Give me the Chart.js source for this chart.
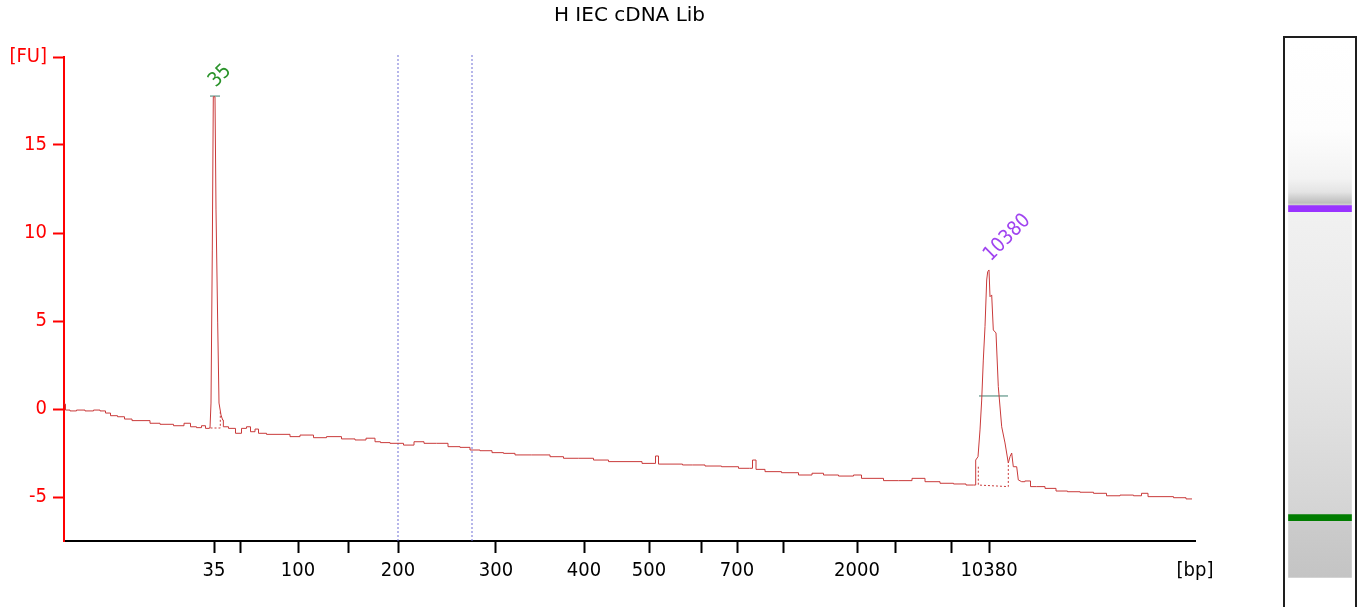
<!DOCTYPE html>
<html>
<head>
<meta charset="utf-8">
<script src="https://cdn.jsdelivr.net/npm/chart.js@4.4.1/dist/chart.umd.min.js"></script>
<style>
  html, body { margin: 0; padding: 0; background: #fff; overflow: hidden; }
  #main { position: absolute; left: 0; top: 0; width: 1246px; height: 607px; }
  #gel { position: absolute; left: 1283px; top: 36px; width: 70px; height: 571px; border: 2px solid #1e1e1e; border-bottom: none; }
</style>
</head>
<body>
<div id="main"><canvas id="traceChart"></canvas></div>
<div id="gel"><canvas id="gelChart"></canvas></div>
<script>
var chartTitle = 'H IEC cDNA Lib';

// migration position (x) and fluorescence [FU] of the trace
var sizePos = [0, 3, 9, 16, 26, 33, 39, 44, 49, 58,
  63, 73, 83, 89, 103, 116, 124, 129, 136, 139,
  144, 146, 147, 148.3, 149.3, 151, 152, 153.7, 155, 157,
  158.7, 160, 169, 174, 181, 184, 189, 193, 196, 209,
  223, 229, 243, 256, 269, 286, 296, 308, 314, 319,
  333, 346, 354, 366, 379, 389, 403, 409, 423, 433,
  446, 456, 479, 493, 506, 523, 536, 553, 573, 583,
  591, 592, 594, 595, 613, 624, 633, 649, 666, 683,
  688, 689, 691, 693, 709, 726, 743, 753, 766, 783,
  796, 799, 813, 826, 843, 853, 869, 883, 896, 908,
  911, 911.7, 914, 916, 917.7, 919.3, 921, 922.7, 923.7, 925,
  926, 927.7, 929.3, 932, 934.3, 937.7, 941, 944.3, 946, 947.7,
  949.3, 952.7, 954.3, 957.7, 964, 969, 976, 986, 998, 1009,
  1023, 1036, 1049, 1063, 1076, 1079, 1089, 1103, 1116, 1128];

var fluorescence = [0.28, -0.06, -0.11, -0.06, -0.11, -0.06, -0.11, -0.23, -0.38, -0.44,
  -0.57, -0.66, -0.66, -0.81, -0.87, -0.95, -0.81, -1.01, -1.06, -0.95,
  -1.10, -1.08, 0.34, 9.03, 17.74, 17.74, 11.31, 4.89, 0.34, -0.34,
  -0.63, -1.01, -1.10, -1.38, -1.10, -1.01, -1.29, -1.14, -1.38, -1.44,
  -1.44, -1.57, -1.48, -1.63, -1.57, -1.70, -1.76, -1.66, -1.86, -1.91,
  -1.95, -2.05, -1.86, -1.95, -1.95, -2.14, -2.18, -2.33, -2.37, -2.48,
  -2.52, -2.61, -2.61, -2.71, -2.80, -2.80, -2.90, -2.99, -2.99, -3.09,
  -3.09, -2.67, -2.67, -3.13, -3.13, -3.18, -3.18, -3.24, -3.28, -3.37,
  -3.37, -2.90, -2.90, -3.43, -3.56, -3.62, -3.75, -3.65, -3.75, -3.81,
  -3.75, -3.94, -3.94, -4.07, -4.07, -3.94, -4.13, -4.22, -4.26, -4.32,
  -4.32, -2.90, -2.71, -1.19, 0.51, 2.78, 4.68, 7.33, 7.80, 7.90,
  6.38, 6.48, 4.49, 4.32, 1.27, -1.01, -1.93, -3.07, -2.71, -2.50,
  -3.28, -3.28, -4.03, -4.13, -4.09, -4.41, -4.41, -4.51, -4.66, -4.70,
  -4.73, -4.79, -4.93, -4.89, -4.93, -4.79, -4.98, -4.98, -5.04, -5.11];

// ladder ticks on the x axis
var ladderPos = [150, 176, 234, 284, 334, 432, 520, 585, 637, 673, 719, 793, 831, 887, 925, 1131];
var ladderLabel = ['35', '', '100', '', '200', '300', '400', '500', '', '700', '', '2000', '', '', '10380', '[bp]'];

var yTicks = [-5, 0, 5, 10, 15, 20];

// called peaks
var peakPos = [150, 925];
var peakTop = [17.78, 7.90];
var peakLabel = ['35', '10380'];
var peakColor = ['#2a932a', '#a044f0'];
var bandColor = ['#007c00', '#9933ff'];

// where each peak starts and ends on the trace
var peakFrom = [146, 911];
var peakTo = [158.7, 957.7];

// peak window / marker level
var markerFrom = [146, 915];
var markerTo = [156, 944];
var markerLevel = [17.78, 0.74];

// integration baseline under each peak
var baseX = [[146.5, 156.3, 156.3], [914.3, 914.3, 944.3, 944.3]];
var baseY = [[-1.08, -1.08, -0.15], [-3.28, -4.32, -4.41, -3.07]];

// region of interest
var regionX = [334, 408];

var fontFamily = '"DejaVu Sans Condensed", "DejaVu Sans", sans-serif';
Chart.defaults.font.family = fontFamily;
Chart.defaults.font.size = 20;

function toPoints(xs, ys) {
  var pts = [];
  for (var i = 0; i < xs.length; i++) {
    pts.push({ x: xs[i], y: ys[i] });
  }
  return pts;
}

function insidePeak(p, strict) {
  for (var i = 0; i < peakFrom.length; i++) {
    if (strict && p > peakFrom[i] && p < peakTo[i]) return true;
    if (!strict && p >= peakFrom[i] && p <= peakTo[i]) return true;
  }
  return false;
}

var noisePts = [];
var peakPts = [];
for (var n = 0; n < sizePos.length; n++) {
  noisePts.push({ x: sizePos[n], y: insidePeak(sizePos[n], true) ? null : fluorescence[n] });
  peakPts.push({ x: sizePos[n], y: insidePeak(sizePos[n], false) ? fluorescence[n] : null });
}

var datasets = [];
datasets.push({
  data: noisePts,
  borderColor: '#c93a3a',
  borderWidth: 1,
  pointRadius: 0,
  stepped: 'middle'
});
datasets.push({
  data: peakPts,
  borderColor: '#c93a3a',
  borderWidth: 1,
  pointRadius: 0,
  tension: 0
});

for (var i = 0; i < baseX.length; i++) {
  datasets.push({
    data: toPoints(baseX[i], baseY[i]),
    borderColor: '#c93a3a',
    borderWidth: 1,
    borderDash: [2, 2],
    pointRadius: 0
  });
}

for (var j = 0; j < markerFrom.length; j++) {
  datasets.push({
    data: toPoints([markerFrom[j], markerTo[j]], [markerLevel[j], markerLevel[j]]),
    borderColor: '#3e7f70',
    borderWidth: 1,
    pointRadius: 0
  });
}

for (var k = 0; k < regionX.length; k++) {
  datasets.push({
    data: toPoints([regionX[k], regionX[k]], [-7.5, 20.2]),
    borderColor: '#6f6fd6',
    borderWidth: 1,
    borderDash: [2, 2],
    pointRadius: 0,
    clip: false
  });
}

var peakLabelPlugin = {
  id: 'peakLabels',
  afterDatasetsDraw: function (chart) {
    var ctx = chart.ctx;
    var xs = chart.scales.x;
    var ys = chart.scales.y;
    ctx.save();
    ctx.font = '20px ' + fontFamily;
    ctx.textAlign = 'left';
    ctx.textBaseline = 'middle';
    for (var i = 0; i < peakLabel.length; i++) {
      var px = xs.getPixelForValue(peakPos[i]);
      var py = ys.getPixelForValue(peakTop[i]);
      ctx.save();
      ctx.translate(px - 2, py - 12);
      ctx.rotate(-Math.PI / 4);
      ctx.fillStyle = peakColor[i];
      ctx.fillText(peakLabel[i], 0, 0);
      ctx.restore();
    }
    ctx.restore();
  }
};

new Chart(document.getElementById('traceChart'), {
  type: 'line',
  data: { datasets: datasets },
  plugins: [peakLabelPlugin],
  options: {
    responsive: true,
    maintainAspectRatio: false,
    animation: false,
    layout: { padding: { left: 0, right: 51, top: 0, bottom: 0 } },
    plugins: {
      legend: { display: false },
      tooltip: { enabled: false },
      title: {
        display: true,
        fullSize: false,
        text: chartTitle,
        color: '#000',
        font: { family: '"DejaVu Sans", sans-serif', size: 20, weight: 'normal' },
        padding: { top: 4, bottom: 29 }
      }
    },
    scales: {
      x: {
        type: 'linear',
        min: 0,
        max: 1131,
        afterBuildTicks: function (scale) {
          scale.ticks = ladderPos.map(function (v) { return { value: v }; });
        },
        afterFit: function (scale) { scale.height = 66; },
        grid: {
          drawOnChartArea: false,
          tickLength: 12,
          tickWidth: 2,
          tickColor: function (c) {
            return ladderLabel[c.index] === '[bp]' ? 'rgba(0,0,0,0)' : '#000';
          }
        },
        border: { display: true, color: '#000', width: 2 },
        ticks: {
          autoSkip: false,
          maxRotation: 0,
          color: '#000',
          padding: 6,
          callback: function (v, i) { return ladderLabel[i]; }
        }
      },
      y: {
        min: -7.5,
        max: 20,
        afterBuildTicks: function (scale) {
          scale.ticks = yTicks.map(function (v) { return { value: v }; });
        },
        afterFit: function (scale) { scale.width = 64; },
        grid: {
          drawOnChartArea: false,
          tickLength: 11,
          tickWidth: 2,
          tickColor: '#ff0000'
        },
        border: { display: true, color: '#ff0000', width: 2 },
        ticks: {
          autoSkip: false,
          color: '#ff0000',
          padding: 6,
          callback: function (v) { return v === 20 ? '[FU]' : String(v); }
        }
      }
    }
  }
});

// gel lane
var laneRange = [0, 1352];
var bandHalf = 7.5;

function laneFill(context) {
  var chart = context.chart;
  if (!chart.chartArea) return '#dddddd';
  var ys = chart.scales.y;
  var top = ys.getPixelForValue(laneRange[1]);
  var bottom = ys.getPixelForValue(laneRange[0]);
  var g = chart.ctx.createLinearGradient(0, top, 0, bottom);
  g.addColorStop(0, '#ffffff');
  g.addColorStop(0.17, '#fdfdfd');
  g.addColorStop(0.26, '#f3f3f3');
  g.addColorStop(0.285, '#e4e4e4');
  g.addColorStop(0.305, '#bdbdbd');
  g.addColorStop(0.315, '#f1f1f1');
  g.addColorStop(0.5, '#ebebeb');
  g.addColorStop(0.7, '#e0e0e0');
  g.addColorStop(0.88, '#d4d4d4');
  g.addColorStop(0.9, '#cbcbcb');
  g.addColorStop(1, '#c4c4c4');
  return g;
}

var gelSets = [];
for (var b = 0; b < peakPos.length; b++) {
  gelSets.push({
    data: [[peakPos[b] - bandHalf, peakPos[b] + bandHalf]],
    backgroundColor: bandColor[b],
    borderWidth: 0,
    grouped: false,
    barThickness: 63
  });
}
gelSets.push({
  data: [[laneRange[0], laneRange[1]]],
  backgroundColor: laneFill,
  borderWidth: 0,
  grouped: false,
  barThickness: 63
});

new Chart(document.getElementById('gelChart'), {
  type: 'bar',
  data: { labels: ['lane'], datasets: gelSets },
  options: {
    responsive: true,
    maintainAspectRatio: false,
    animation: false,
    layout: { padding: 0 },
    plugins: { legend: { display: false }, tooltip: { enabled: false } },
    scales: {
      x: { display: false },
      y: { display: false, min: -79, max: 1352.8 }
    }
  }
});
</script>
</body>
</html>
